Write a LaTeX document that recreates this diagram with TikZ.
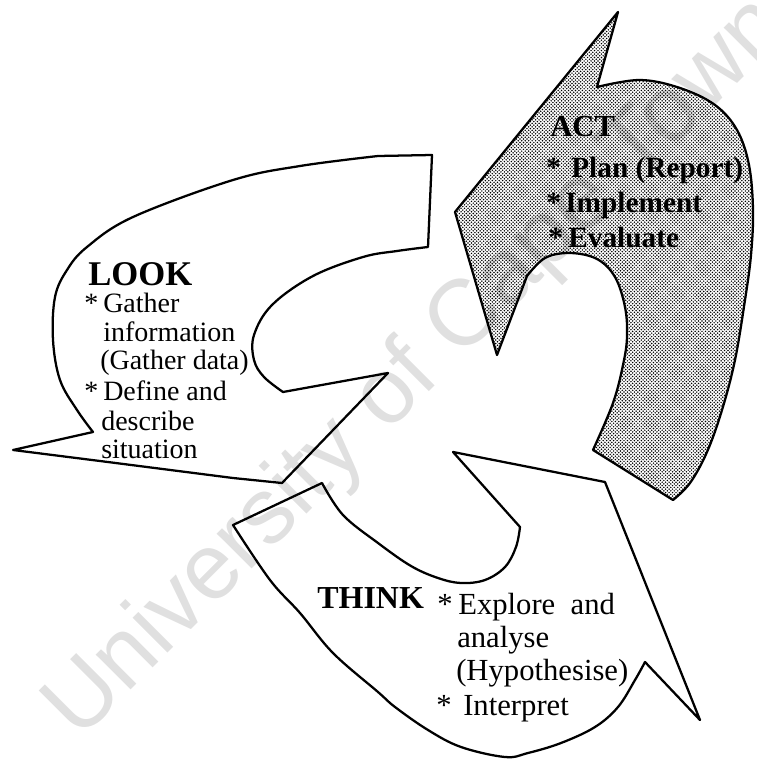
\documentclass[tikz,border=0pt]{standalone}
\usepackage{fontspec}
\setmainfont{Liberation Serif}
\newfontfamily\wmfont{Liberation Sans}
\usetikzlibrary{patterns}
\pgfdeclarepatternformonly{actdots}{\pgfqpoint{-0.7pt}{-0.7pt}}{\pgfqpoint{2.0pt}{2.0pt}}{\pgfqpoint{2.6pt}{2.6pt}}{%
  \pgfpathcircle{\pgfqpoint{0pt}{0pt}}{0.62pt}%
  \pgfpathcircle{\pgfqpoint{1.3pt}{1.3pt}}{0.62pt}%
  \pgfusepath{fill}}
\tikzset{
  outline/.style={draw=black, line width=1.7pt, line join=round},
  actfill/.style={pattern=actdots, pattern color=black},
  wm/.style={anchor=base west, rotate=45, inner sep=0pt, text=black!12,
    font=\wmfont\fontsize{70}{70}\selectfont},
  txt/.style={anchor=base west, inner sep=0pt},
  looktitle/.style={txt, font=\bfseries\fontsize{26}{30}\selectfont},
  lookitem/.style={txt, font=\fontsize{21}{25}\selectfont},
  acttitle/.style={txt, font=\bfseries\fontsize{23}{27}\selectfont},
  actitem/.style={txt, font=\bfseries\fontsize{22}{26}\selectfont},
  thinktitle/.style={txt, font=\bfseries\fontsize{24}{28}\selectfont},
  thinkitem/.style={txt, font=\fontsize{23}{27}\selectfont},
}
\begin{document}
\begin{tikzpicture}[x=0.75pt,y=-0.75pt]
\useasboundingbox (0,0) rectangle (756,763);

% watermark
\node[wm] (wmark) at (79,742) {University of Cape Town};

% ACT arrow (dotted)
\path[outline, actfill] (618,12) -- (455,212) -- (497,355) -- (527,276)
  -- plot[smooth, tension=0.6] coordinates {(527,276) (545,258) (570,253) (597,259) (615,277) (625,307) (627,337) (623,365) (613,403) (593,450)}
  -- (673,500)
  -- plot[smooth, tension=0.6] coordinates {(673,500) (690,483) (707,452) (722,410) (735,360) (745,300) (751,255) (753,210) (749,165) (737,130) (715,105) (680,88) (640,80) (597,87)}
  -- cycle;

% LOOK arrow
\path[outline] (432,155) -- (428,247)
  -- plot[smooth, tension=0.6] coordinates {(428,247) (397,251) (363,257) (313,276) (272,305) (254,335) (254,360) (264,377) (283,392)}
  -- (388,373) -- (282,483) -- (233,478) -- (100,461) -- (13,450) -- (93,432)
  -- plot[smooth, tension=0.6] coordinates {(93,432) (77,410) (60,380) (53,340) (55,297) (67,270) (87,247) (133,217) (233,180) (300,166) (378,156)}
  -- cycle;

% THINK arrow
\path[outline] (233,525) -- (322,483)
  -- plot[smooth, tension=0.6] coordinates {(322,483) (343,515) (378,543) (411,566) (438,578) (461,583) (485,580) (505,567) (516,547) (520,527)}
  -- (453,452) -- (605,482) -- (700,720) -- (645,662)
  -- plot[smooth, tension=0.6] coordinates {(645,662) (635,680) (618,707) (595,727) (561,743) (528,753) (505,757) (461,747) (428,730) (395,707) (378,692) (333,653) (300,613) (270,580) (233,525)}
  -- cycle;

% LOOK text
\node[looktitle] (lookt) at (88,285) {LOOK};
\node[lookitem] (lookb1) at (84,312) {*};
\node[lookitem] (looka) at (103,312) {Gather};
\node[lookitem] (lookb) at (103,341) {information};
\node[lookitem] (lookc) at (100,369) {(Gather data)};
\node[lookitem] (lookb2) at (84,400) {*};
\node[lookitem] (lookd) at (103,400) {Define and};
\node[lookitem] (looke) at (101,430) {describe};
\node[lookitem] (lookf) at (101,458) {situation};

% ACT text
\node[acttitle] (actt) at (550,137) {ACT};
\node[actitem] (actb1) at (546,177) {*};
\node[actitem] (acta) at (571,177) {Plan (Report)};
\node[actitem] (actb2) at (546,212) {*};
\node[actitem] (actb) at (565,212) {Implement};
\node[actitem] (actb3) at (548,247) {*};
\node[actitem] (actc) at (568,247) {Evaluate};

% THINK text
\node[thinktitle] (thinkt) at (317,608) {THINK};
\node[thinkitem] (thinkb1) at (437,614) {*};
\node[thinkitem] (thinka) at (458,614) {Explore\hspace{0.5em}and};
\node[thinkitem] (thinkb) at (457,647) {analyse};
\node[thinkitem] (thinkc) at (456,680) {(Hypothesise)};
\node[thinkitem] (thinkb2) at (436,715) {*};
\node[thinkitem] (thinkd) at (463,715) {Interpret};
\end{tikzpicture}
\end{document}
